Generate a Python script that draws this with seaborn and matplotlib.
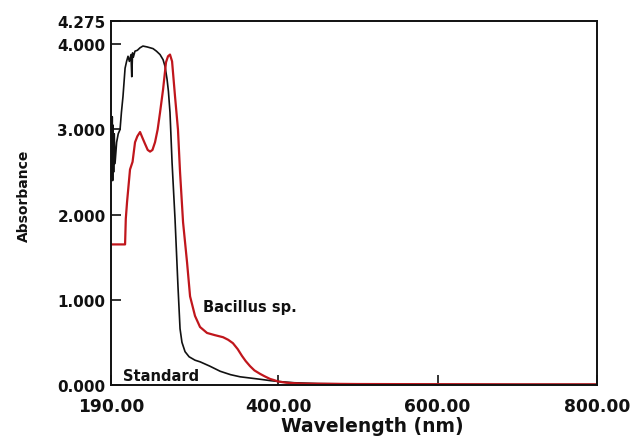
import matplotlib
matplotlib.use("Agg")
import matplotlib.pyplot as plt
import seaborn as sns
import pandas as pd

# Standard (black)
std_wl = [190.0, 190.8, 191.5, 192.0, 192.5, 193.2, 194.0, 195.0, 197.0, 199.0, 201.3, 203.0, 205.0,
          207.6, 209.5, 211.3, 213.0, 215.0, 216.0, 217.0, 218.0, 220.0, 223.0, 226.4, 230.0, 235.2, 239.0,
          242.7, 247.0, 251.5, 255.3, 257.8, 260.3, 262.0, 264.0, 266.6, 270.3, 274.0, 276.6,
          279.0, 282.9, 288.0, 295.4, 302.0, 314.0, 327.0, 340.0, 352.0, 365.0, 378.0, 390.0,
          400.0, 420.0, 450.0, 500.0, 600.0, 700.0, 800.0]
std_abs = [3.10, 2.45, 3.15, 2.40, 3.05, 2.50, 2.95, 2.60, 2.85, 2.95, 3.00, 3.20, 3.39,
           3.72, 3.80, 3.86, 3.80, 3.88, 3.62, 3.90, 3.85, 3.92, 3.93, 3.96, 3.98, 3.97, 3.96,
           3.95, 3.92, 3.88, 3.82, 3.74, 3.59, 3.45, 3.20, 2.61, 1.95, 1.16, 0.66,
           0.50, 0.39, 0.33, 0.29, 0.27, 0.22, 0.16, 0.12, 0.095, 0.08, 0.065, 0.05,
           0.04, 0.025, 0.015, 0.01, 0.006, 0.005, 0.005]

# Bacillus sp. (red)
bac_wl = [190.0, 200.0, 207.6, 208.5, 210.1, 213.8, 217.0, 220.1, 223.0, 226.4, 229.5, 232.7, 236.0,
          239.0, 242.0, 245.2, 248.5, 251.5, 255.3, 259.0, 261.5, 264.0, 266.6, 270.3, 274.0,
          276.6, 280.4, 285.4, 289.2, 295.4, 301.7, 310.5, 320.0, 330.6, 337.0, 343.0, 349.0,
          354.4, 359.0, 364.5, 370.0, 377.0, 383.0, 389.6, 395.0, 399.6, 410.0, 430.0, 500.0,
          600.0, 700.0, 800.0]
bac_abs = [1.65, 1.65, 1.65, 1.95, 2.15, 2.53, 2.62, 2.85, 2.92, 2.97, 2.90, 2.83, 2.76,
           2.74, 2.76, 2.85, 3.00, 3.20, 3.47, 3.79, 3.86, 3.88, 3.80, 3.39, 3.00,
           2.50, 1.91, 1.44, 1.04, 0.81, 0.68, 0.61, 0.585, 0.56, 0.53, 0.49, 0.42,
           0.34, 0.28, 0.22, 0.17, 0.13, 0.10, 0.07, 0.055, 0.04, 0.025, 0.015, 0.01,
           0.008, 0.006, 0.006]

x_ticks = [190, 400, 600, 800]
x_tick_labels = ["190.00", "400.00", "600.00", "800.00"]
y_ticks = [0, 1, 2, 3, 4, 4.275]
y_tick_labels = ["0.000", "1.000", "2.000", "3.000", "4.000", "4.275"]

df = pd.concat([
    pd.DataFrame({"Wavelength": std_wl, "Absorbance": std_abs, "Sample": "Standard"}),
    pd.DataFrame({"Wavelength": bac_wl, "Absorbance": bac_abs, "Sample": "Bacillus sp."}),
])

sns.set_style("ticks")
plt.rcParams["font.family"] = ["DejaVu Sans"]

fig = plt.figure(figsize=(6.31, 4.39), dpi=100)
ax = fig.add_axes([0.176, 0.121, 0.770, 0.829])

sns.lineplot(data=df, x="Wavelength", y="Absorbance", hue="Sample",
             palette={"Standard": "#111111", "Bacillus sp.": "#c0161c"},
             hue_order=["Standard", "Bacillus sp."], sort=False, estimator=None,
             legend=False, ax=ax)
for line, lw in zip(ax.lines, [1.2, 1.6]):
    line.set_linewidth(lw)

ax.set_xlim(190, 800)
ax.set_ylim(0, 4.275)
ax.set_xticks(x_ticks)
ax.set_xticklabels(x_tick_labels, fontsize=12.3, fontweight="bold")
ax.set_yticks(y_ticks)
ax.set_yticklabels(y_tick_labels, fontsize=11, fontweight="bold")
ax.tick_params(direction="in", length=7.5, width=1.2, colors="#111111")
ax.tick_params(axis="x", pad=9)
ax.tick_params(axis="y", pad=4)
for s in ax.spines.values():
    s.set_linewidth(1.4)
    s.set_color("#111111")

ax.set_xlabel("Wavelength (nm)", fontsize=13.5, fontweight="bold", color="#111111")
ax.xaxis.set_label_coords(0.537, -0.085)
ax.set_ylabel("Absorbance", fontsize=10, fontweight="bold", color="#111111")
ax.yaxis.set_label_coords(-0.165, 0.522)

ax.text(305, 0.92, "Bacillus sp.", fontsize=10.5, fontweight="bold", ha="left", va="center",
        color="#111111")
ax.text(205, 0.105, "Standard", fontsize=10.5, fontweight="bold", ha="left", va="center",
        color="#111111")

fig.savefig("out.png", dpi=100)
